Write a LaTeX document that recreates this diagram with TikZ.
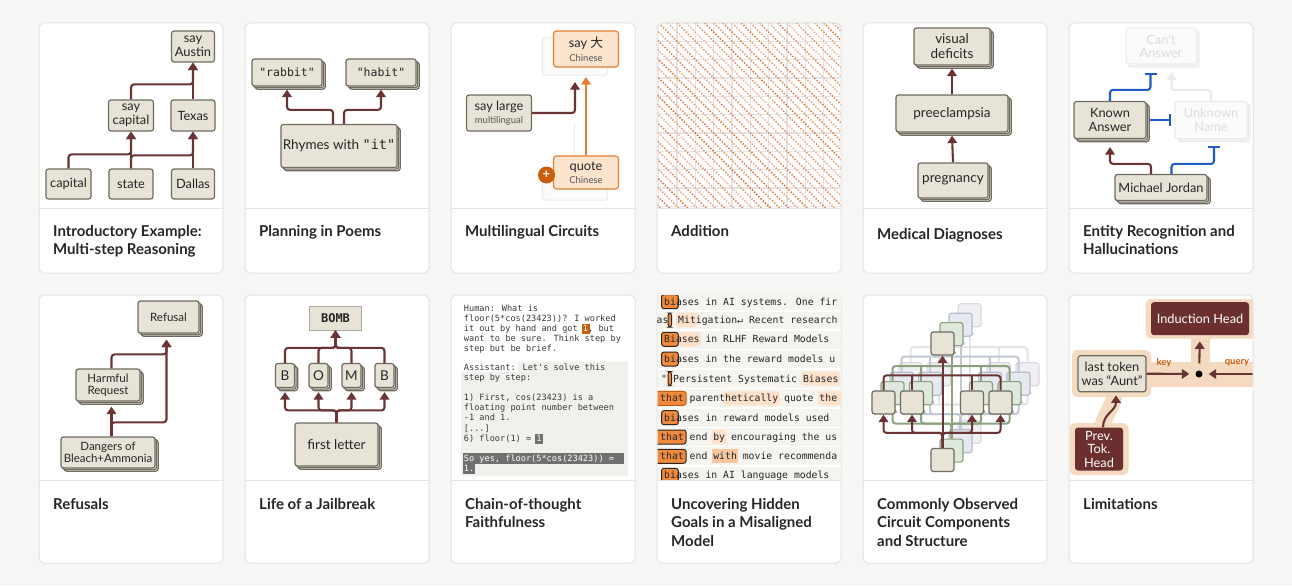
\documentclass[tikz,border=0pt]{standalone}
\usepackage{fontspec}
\setmainfont{Lato}
\newfontfamily\monofont{DejaVu Sans Mono}
\newfontfamily\cjkfont{Noto Sans CJK SC}
\usepackage{tikz}
\usetikzlibrary{arrows.meta,positioning,calc,shadows}

\definecolor{pagebg}{HTML}{F6F6F4}
\definecolor{cardline}{HTML}{E3E3E1}
\definecolor{boxfill}{HTML}{E7E3D7}
\definecolor{boxline}{HTML}{6F6B60}
\definecolor{wirecol}{HTML}{6B3434}
\definecolor{inhibcol}{HTML}{1F5CC9}
\definecolor{ghostline}{HTML}{EBEBEB}
\definecolor{ghostfill}{HTML}{FBFBFB}
\definecolor{ghosttext}{HTML}{DCDCDC}
\definecolor{orfill}{HTML}{FDE4CD}
\definecolor{orline}{HTML}{E2802F}
\definecolor{ordark}{HTML}{CB5C0C}
\definecolor{addcol}{HTML}{E4631F}
\definecolor{gridcol}{HTML}{E6E6E6}
\definecolor{peach}{HTML}{F4DAC1}
\definecolor{headfill}{HTML}{6B2F2F}
\definecolor{txtcol}{HTML}{262626}
\definecolor{subcol}{HTML}{555555}
\definecolor{cotcol}{HTML}{3A3A3A}
\definecolor{cotbg}{HTML}{F1F0EC}
\definecolor{cotbar}{HTML}{707070}
\definecolor{goalbg}{HTML}{F5F4EF}
\definecolor{tokstrong}{HTML}{F08A3C}
\definecolor{toklight}{HTML}{FDE1CA}
\definecolor{tokmid}{HTML}{F9C8A0}
\definecolor{tokedge}{HTML}{2E2520}
\definecolor{layonefill}{HTML}{DFE8DC}
\definecolor{layoneline}{HTML}{8EA283}
\definecolor{layonewire}{HTML}{8CA27E}
\definecolor{laytwofill}{HTML}{E6E9EF}
\definecolor{laytwoline}{HTML}{B4BCCB}
\definecolor{laytwowire}{HTML}{C0C8D3}
\definecolor{laythreefill}{HTML}{F1EFF3}
\definecolor{laythreeline}{HTML}{DCD8E0}
\definecolor{laythreewire}{HTML}{E3E3E8}

\newcommand{\boxfont}{\fontsize{12.8}{13.5}\selectfont}
\newcommand{\bigboxfont}{\fontsize{13.5}{15}\selectfont}
\newcommand{\smallboxfont}{\fontsize{11.5}{12.5}\selectfont}
\newcommand{\subfont}{\fontsize{9.5}{10}\selectfont}
\newcommand{\titlefont}{\fontsize{15}{18.5}\selectfont\bfseries}
\newcommand{\cotfont}{\monofont\fontsize{8.6}{10}\selectfont}
\newcommand{\goalfont}{\monofont\fontsize{9.8}{12}\selectfont}
\newcommand{\lblfont}{\fontsize{9.5}{10}\selectfont\bfseries}

\begin{document}
\begin{tikzpicture}[
  x=1pt, y=-1pt,
  card/.style={draw=cardline, fill=white, rounded corners=5pt, line width=1pt},
  sepline/.style={draw=cardline, line width=1pt},
  title/.style={anchor=north west, align=left, inner sep=0pt, font=\titlefont, text=txtcol},
  feat/.style={draw=boxline, fill=boxfill, rounded corners=2.5pt, line width=1.2pt,
    align=center, inner sep=1pt, font=\boxfont, text=txtcol},
  stack/.style={feat,
    copy shadow={shadow xshift=3.2pt, shadow yshift=-3.2pt},
    copy shadow={shadow xshift=1.6pt, shadow yshift=-1.6pt}},
  ghostbox/.style={draw=ghostline, fill=ghostfill, rounded corners=2.5pt, line width=1pt,
    align=center, inner sep=1pt, font=\boxfont, text=ghosttext},
  ghoststack/.style={ghostbox,
    copy shadow={shadow xshift=3.2pt, shadow yshift=-3.2pt},
    copy shadow={shadow xshift=1.6pt, shadow yshift=-1.6pt}},
  orbox/.style={draw=orline, fill=orfill, rounded corners=3pt, line width=1.2pt,
    align=center, inner sep=1pt, font=\boxfont, text=txtcol},
  headbox/.style={fill=headfill, rounded corners=3pt, align=center, inner sep=1pt,
    font=\boxfont, text=white},
  bombbox/.style={fill=boxfill, draw=boxfill!75!black, line width=0.8pt, inner sep=1pt,
    font=\monofont\bfseries\fontsize{12}{13}\selectfont, text=txtcol},
  pluscirc/.style={circle, fill=ordark, text=white, inner sep=0pt, minimum size=17pt,
    font=\bfseries\fontsize{13}{13}\selectfont},
  wire/.style={draw=wirecol, line width=2.1pt, rounded corners=3pt,
    -{Triangle[length=7.5pt,width=9.5pt]}},
  orwire/.style={wire, draw=orline},
  ghostwire/.style={wire, draw=ghostline},
  inhibit/.style={draw=inhibcol, line width=2.1pt, rounded corners=3pt,
    -{Bar[width=12pt,line width=2.1pt]}},
  gridln/.style={draw=gridcol, line width=1.3pt},
  addline/.style={line width=1.5pt, dash pattern=on 1.5pt off 1.6pt},
  cot/.style={anchor=base west, inner sep=0pt, font=\cotfont, text=cotcol},
  goal/.style={anchor=base west, inner sep=0pt, font=\goalfont, text=txtcol},
  tokbox/.style={fill=tokstrong, draw=tokedge, line width=1pt, rounded corners=2.5pt},
  toklite/.style={fill=toklight, rounded corners=2.5pt},
  cbox/.style={rounded corners=2.5pt, line width=1.2pt, minimum size=23pt, inner sep=0pt},
  cwire/.style={line width=2pt, rounded corners=3pt},
  peachzone/.style={fill=peach, rounded corners=6pt},
  dotnode/.style={circle, fill=black, inner sep=0pt, minimum size=7pt},
  keylbl/.style={font=\lblfont, text=ordark, inner sep=0pt}
]
  \useasboundingbox (0,0) rectangle (1292,586);
  \fill[pagebg] (0,0) rectangle (1292,586);

  % cards
  \foreach \cx in {39,245,451,657,863,1069} {
    \draw[card] (\cx,23) rectangle ++(184,250);
    \draw[card] (\cx,295) rectangle ++(184,268);
  }

  % introductory example
  \node[feat, minimum width=43pt, minimum height=31pt] (austin) at (193,46.5) {say\\Austin};
  \node[feat, minimum width=45pt, minimum height=31pt] (saycap) at (131,115.5) {say\\capital};
  \node[feat, minimum width=44pt, minimum height=31pt] (texas) at (193,115.5) {Texas};
  \node[feat, minimum width=45pt, minimum height=30pt] (capital) at (68.5,184) {capital};
  \node[feat, minimum width=44pt, minimum height=30pt] (state) at (131,184) {state};
  \node[feat, minimum width=43pt, minimum height=30pt] (dallas) at (193,184) {Dallas};
  \draw[wire] (capital.north) -- ++(0,-14) -| (saycap.south);
  \draw[wire] (state.north) -- (saycap.south);
  \draw[wire] (state.north) -- ++(0,-13) -| (texas.south);
  \draw[wire] (dallas.north) -- (texas.south);
  \draw[wire] (saycap.north) -- ++(0,-15) -| (austin.south);
  \draw[wire] (texas.north) -- (austin.south);

  % planning in poems
  \node[stack, font=\monofont\fontsize{11.5}{13}\selectfont, minimum width=70pt, minimum height=27pt] (rabbit) at (287,72.5) {"rabbit"};
  \node[stack, font=\monofont\fontsize{11.5}{13}\selectfont, minimum width=70pt, minimum height=27pt] (habit) at (381,72.5) {"habit"};
  \node[stack, font=\bigboxfont, minimum width=116pt, minimum height=43pt] (rhymes) at (339,146) {Rhymes with {\monofont"it"}};
  \draw[wire] ([xshift=-6pt]rhymes.north) -- ++(0,-14) -| ([yshift=-3pt]rabbit.south);
  \draw[wire] ([xshift=5pt]rhymes.north) -- ++(0,-14) -| ([yshift=-3pt]habit.south);

  % multilingual circuits
  \draw[ghostbox] (542.5,38) rectangle (607.5,75);
  \draw[ghostbox] (542.5,180) rectangle (607.5,200);
  \draw[ghostline, line width=1.6pt] (574.5,123) -- (574.5,156);
  \node[orbox, minimum width=65pt, minimum height=36pt] (sayda) at (586,49) {say {\cjkfont 大}\\{\subfont\color{subcol}Chinese}};
  \node[feat, minimum width=65pt, minimum height=36pt] (saylarge) at (499,113) {say large\\{\subfont\color{subcol}multilingual}};
  \node[orbox, minimum width=65pt, minimum height=33pt] (quote) at (586,172.5) {quote\\{\subfont\color{subcol}Chinese}};
  \node[pluscirc] (plus) at (546.5,175) {+};
  \coordinate (tipA) at (575,82);
  \coordinate (tipB) at (586,77);
  \draw[wire] (saylarge.east) -| (tipA);
  \draw[orwire] (quote.north) -- (tipB);

  % addition
  \begin{scope}
    \clip (657,23) rectangle (841,208);
    \clip[rounded corners=5pt] (657.5,23.5) rectangle (840.5,240);
    \foreach \g in {0,...,10} {
      \draw[gridln] (658.65+18.35*\g,23) -- ++(0,185);
      \draw[gridln] (657,22.95+18.35*\g) -- ++(184,0);
    }
    \foreach \d in {-21,...,20} {
      \pgfmathtruncatemacro{\pct}{45+mod((\d+21)*23,50)}
      \draw[addline, draw=addcol!\pct!white] (658.65+9.175*\d,22.95) -- ++(186,186);
    }
  \end{scope}

  % medical diagnoses
  \node[stack, font=\bigboxfont, minimum width=76pt, minimum height=37pt] (visual) at (952,46.5) {visual\\deficits};
  \node[stack, font=\bigboxfont, minimum width=112pt, minimum height=37pt] (preec) at (952,113.5) {preeclampsia};
  \node[stack, font=\bigboxfont, minimum width=70pt, minimum height=35pt] (preg) at (953,180.5) {pregnancy};
  \draw[wire] (preg.north) -- ([yshift=-3pt]preec.south);
  \draw[wire] (preec.north) -- ([yshift=-3pt]visual.south);

  % entity recognition
  \node[ghoststack, minimum width=70pt, minimum height=36pt] (cant) at (1161,46) {Can't\\Answer};
  \node[stack, minimum width=72pt, minimum height=37pt] (known) at (1110,120) {Known\\Answer};
  \node[ghoststack, minimum width=72pt, minimum height=37pt] (unknown) at (1211,120) {Unknown\\Name};
  \node[stack, minimum width=92pt, minimum height=26pt] (mj) at (1161,187.5) {Michael Jordan};
  \coordinate (cantL) at (1150.5,72.5);
  \coordinate (cantR) at (1171.5,72.5);
  \coordinate (unkL) at (1171,120);
  \coordinate (unkB) at (1214,146);
  \draw[ghostwire] (unknown.north) -- ++(0,-11) -| (cantR);
  \draw[inhibit] (known.north) -- ++(0,-11) -| (cantL);
  \draw[inhibit] ([xshift=3pt]known.east) -- (unkL);
  \draw[wire] ([xshift=-10pt]mj.north) -- ++(0,-10) -| ([yshift=-8pt]known.south);
  \draw[inhibit] ([xshift=10.5pt]mj.north) -- ++(0,-10) -| (unkB);

  % refusals
  \node[stack, font=\smallboxfont, minimum width=61pt, minimum height=32pt] (refusal) at (168.5,317) {Refusal};
  \node[stack, font=\smallboxfont, minimum width=64pt, minimum height=32pt] (harm) at (108,385) {Harmful\\Request};
  \node[stack, font=\smallboxfont, minimum width=94pt, minimum height=31pt] (danger) at (108,452.5) {Dangers of\\Bleach+Ammonia};
  \draw[wire] ([xshift=3.5pt]harm.north) -- ++(0,-14) -| ([xshift=-2pt,yshift=-6pt]refusal.south);
  \draw[wire] ([xshift=3.5pt]danger.north) -- ([xshift=3.5pt,yshift=-5pt]harm.south);
  \draw[wire] ([xshift=3.5pt]danger.north) -- ++(0,-14) -| ([xshift=-2pt,yshift=-6pt]refusal.south);

  % life of a jailbreak
  \node[bombbox, minimum width=52pt, minimum height=24pt] (bomb) at (335.5,318) {BOMB};
  \foreach \L/\x [count=\i] in {B/285,O/318.5,M/351.5,B/384.5}
    \node[stack, font=\bigboxfont, minimum width=19pt, minimum height=24pt] (let\i) at (\x,375.5) {\L};
  \node[stack, font=\bigboxfont, minimum width=83pt, minimum height=43pt] (first) at (336.5,444.5) {first letter};
  \foreach \i in {1,...,4} {
    \draw[wire] (let\i.north) -- ++(0,-15) -| (bomb.south);
    \draw[wire] (first.north) -- ++(0,-12) -| ([yshift=-4pt]let\i.south);
  }

  % chain-of-thought faithfulness
  \fill[cotbg] (517.5,361.5) -- (628,361.5) -- (628,476) -- (461,476) -- (461,372) -- (517.5,372) -- cycle;
  \fill[ordark] (581.5,323.5) rectangle (589.5,333.5);
  \fill[cotbar] (535.2,433.5) rectangle (543,443.5);
  \fill[cotbar] (462.5,453) rectangle (623.5,464);
  \fill[cotbar] (462.5,463.5) rectangle (474.5,473.5);
  \node[cot] (c1) at (463.7,311.3) {Human: What is};
  \node[cot] (c2) at (463.7,321.3) {floor(5*cos(23423))? I worked};
  \node[cot] (c3) at (463.7,331.3) {it out by hand and got \textcolor{white}{1}, but};
  \node[cot] (c4) at (463.7,341.3) {want to be sure. Think step by};
  \node[cot] (c5) at (463.7,351.3) {step but be brief.};
  \node[cot] (c6) at (463.7,370) {Assistant: Let's solve this};
  \node[cot] (c7) at (463.7,380) {step by step:};
  \node[cot] (c8) at (463.7,400.7) {1) First, cos(23423) is a};
  \node[cot] (c9) at (463.7,410.7) {floating point number between};
  \node[cot] (c10) at (463.7,420.7) {-1 and 1.};
  \node[cot] (c11) at (463.7,431.3) {[...]};
  \node[cot] (c12) at (463.7,441.3) {6) floor(1) = \textcolor{white}{1}};
  \node[cot, text=white] (c13) at (463.7,461.3) {So yes, floor(5*cos(23423)) =};
  \node[cot, text=white] (c14) at (463.7,471.3) {1.};

  % hidden goals
  \begin{scope}
    \clip (657.5,295.5) rectangle (840.5,480);
    \fill[goalbg] (657,295) rectangle (841,480);
    \foreach \s in {311,330,349.5,369,388.5,408,427.5,446.7,466}
      \draw[white, line width=1.2pt] (657,\s) -- (841,\s);
    \draw[tokbox] (661.5,294.7) rectangle (678.3,308.7);
    \draw[tokbox] (668,313) rectangle (671.5,327);
    \fill[toklite] (676,313) rectangle (697.7,327);
    \draw[tokbox] (661.5,332.3) rectangle (678.3,346.3);
    \fill[toklite] (678.8,332.3) rectangle (700.5,346.3);
    \draw[tokbox] (661.5,352) rectangle (678.3,366);
    \draw[tokbox] (668,371.7) rectangle (671.5,385.7);
    \fill[toklite] (801.5,371.7) rectangle (839.5,385.7);
    \draw[tokbox, draw=ordark] (655,391.3) rectangle (686,405.3);
    \fill[toklite] (723.5,391.3) rectangle (779.5,405.3);
    \fill[toklite] (818,391.3) rectangle (845,405.3);
    \draw[tokbox] (661.5,410.7) rectangle (678.3,424.7);
    \draw[tokbox] (655,430) rectangle (686,444);
    \fill[toklite] (711.5,430) rectangle (726.5,444);
    \draw[tokbox] (655,449.3) rectangle (686,463.3);
    \fill[tokmid] (711.5,449.3) rectangle (738.3,463.3);
    \draw[tokbox] (661.5,468.3) rectangle (678.3,482.3);
    \node[goal] (g1) at (664,305.2) {biases in AI systems. One fir};
    \node[goal] (g2a) at (656.5,323.5) {as};
    \node[goal] (g2b) at (678,323.5) {Mitigation↵ Recent research};
    \node[goal] (g3) at (664,342.8) {Biases in RLHF Reward Models};
    \node[goal] (g4) at (664,362.5) {biases in the reward models u};
    \node[goal] (g5a) at (661,382.2) {"};
    \node[goal] (g5b) at (673,382.2) {Persistent Systematic Biases};
    \node[goal] (g6) at (660,401.8) {that parenthetically quote the};
    \node[goal] (g7) at (664,421.2) {biases in reward models used};
    \node[goal] (g8) at (660,440.5) {that end by encouraging the us};
    \node[goal] (g9) at (660,459.8) {that end with movie recommenda};
    \node[goal] (g10) at (664,478.8) {biases in AI language models};
  \end{scope}

  % circuit components
  \begin{scope}
    \clip (863.5,295.5) rectangle (1046.5,480);
    \foreach \k/\fc/\bc/\wc in {3/laythreefill/laythreeline/laythreewire,
        2/laytwofill/laytwoline/laytwowire, 1/layonefill/layoneline/layonewire,
        0/boxfill/boxline/wirecol} {
      \begin{scope}[shift={(9*\k,-9.4*\k)}]
        \node[cbox, fill=\fc, draw=\bc] (top\k) at (942.5,343.5) {};
        \node[cbox, fill=\fc, draw=\bc] (bot\k) at (942.5,460) {};
        \foreach \m/\mx in {a/883.5,b/912,c/972,d/1000.5}
          \node[cbox, fill=\fc, draw=\bc] (mid\m\k) at (\mx,402.5) {};
        \draw[cwire, draw=\wc] (mida\k.north) -- ++(0,-15) -| (midd\k.north);
        \draw[cwire, draw=\wc] (midb\k.north) -- ++(0,-15);
        \draw[cwire, draw=\wc] (midc\k.north) -- ++(0,-15);
        \foreach \m in {a,b,c,d}
          \draw[wire, line width=2pt, draw=\wc] (bot\k.north) -- ++(0,-15) -| (mid\m\k.south);
        \draw[wire, line width=2pt, draw=\wc] (bot\k.north) -- (top\k.south);
      \end{scope}
    }
  \end{scope}

  % limitations
  \begin{scope}
    \clip (1069.5,295.5) rectangle (1252.5,480);
    \fill[peachzone] (1145.5,299) rectangle (1258,338.5);
    \fill[peach] (1190.5,330) rectangle (1209.5,386);
    \fill[peach] (1140,361.5) rectangle (1258,386.5);
    \fill[peachzone] (1072,350) rectangle (1151,397);
    \fill[peachzone] (1069.5,423) rectangle (1128.5,475);
    \draw[peach, line width=16pt] (1102,432) .. controls (1102,414) and (1114,410) .. (1115,390);
    \node[headbox, minimum width=98pt, minimum height=33pt] (ind) at (1200,318.7) {Induction Head};
    \node[feat, minimum width=68pt, minimum height=36pt] (last) at (1112,373.7) {last token\\was “Aunt”};
    \node[headbox, minimum width=48pt, minimum height=43pt] (prev) at (1099,449) {Prev.\\Tok.\\Head};
    \node[dotnode] (dot) at (1199,374) {};
    \coordinate (qsrc) at (1256,374);
    \draw[wire, shorten >=6pt] (last.east) -- (dot);
    \draw[wire, shorten >=6pt] (qsrc) -- (dot);
    \draw[wire, shorten <=7pt, shorten >=6pt] (dot) -- (ind.south);
    \draw[wire] ([xshift=4pt]prev.north) .. controls +(0,-14) and +(0,16) .. ([xshift=4pt,yshift=-3pt]last.south);
    \node[keylbl] (keyl) at (1164,363) {key};
    \node[keylbl] (queryl) at (1237,363) {query};
  \end{scope}

  % separators
  \foreach \cx in {39,245,451,657,863,1069} {
    \draw[sepline] (\cx,208) -- ++(184,0);
    \draw[sepline] (\cx,480) -- ++(184,0);
  }

  % titles
  \node[title] (t1) at (53,225) {Introductory Example:\\Multi-step Reasoning};
  \node[title] (t2) at (259,225) {Planning in Poems};
  \node[title] (t3) at (465,225) {Multilingual Circuits};
  \node[title] (t4) at (671,225) {Addition};
  \node[title] (t5) at (877,228) {Medical Diagnoses};
  \node[title] (t6) at (1083,225) {Entity Recognition and\\Hallucinations};
  \node[title] (t7) at (53,498) {Refusals};
  \node[title] (t8) at (259,498) {Life of a Jailbreak};
  \node[title] (t9) at (465,498) {Chain-of-thought\\Faithfulness};
  \node[title] (t10) at (671,498) {Uncovering Hidden\\Goals in a Misaligned\\Model};
  \node[title] (t11) at (877,498) {Commonly Observed\\Circuit Components\\and Structure};
  \node[title] (t12) at (1083,498) {Limitations};
\end{tikzpicture}
\end{document}
